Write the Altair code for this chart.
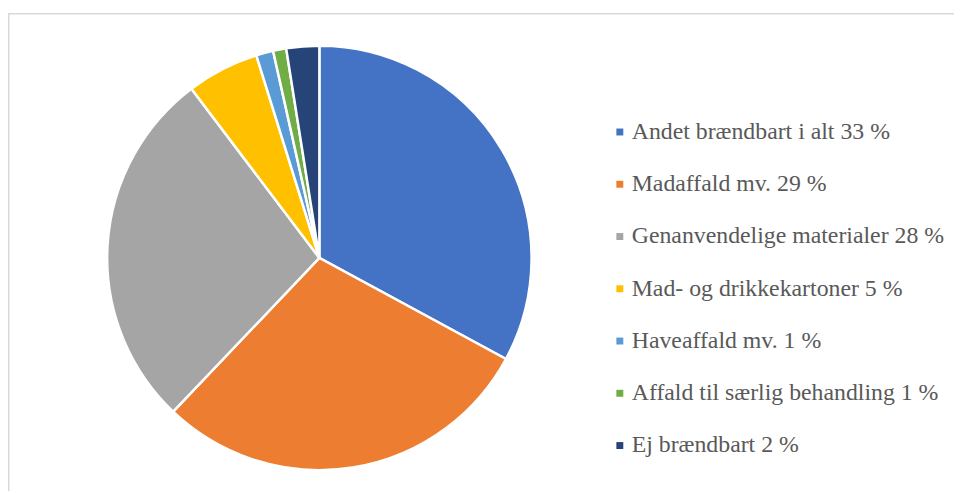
import altair as alt
import pandas as pd

labels = [
    "Andet brændbart i alt 33 %",
    "Madaffald mv. 29 %",
    "Genanvendelige materialer 28 %",
    "Mad- og drikkekartoner 5 %",
    "Haveaffald mv.  1 %",
    "Affald til særlig behandling 1 %",
    "Ej brændbart 2 %",
]
values = [32.9, 29.2, 27.6, 5.5, 1.3, 1.0, 2.5]
colors = ["#4472C4", "#ED7D31", "#A5A5A5", "#FFC000", "#5B9BD5", "#70AD47", "#264478"]

df = pd.DataFrame({"label": labels, "value": values, "idx": list(range(len(labels)))})

SERIF = "Liberation Serif"

top_line = alt.Chart(alt.Data(values=[{}])).mark_rule(
    stroke="#D9D9D9", strokeWidth=1.5
).encode(x=alt.value(0), x2=alt.value(954), y=alt.value(3.75))

left_line = alt.Chart(alt.Data(values=[{}])).mark_rule(
    stroke="#D9D9D9", strokeWidth=1.5
).encode(x=alt.value(0.75), y=alt.value(3), y2=alt.value(485))

pie = alt.Chart(df).mark_arc(radius=214, stroke="white", strokeWidth=2.5).encode(
    theta=alt.Theta("value:Q", stack=True),
    order=alt.Order("idx:Q"),
    color=alt.Color(
        "label:N",
        scale=alt.Scale(domain=labels, range=colors),
        sort=labels,
        legend=alt.Legend(
            title=None,
            orient="none",
            legendX=605,
            legendY=111,
            symbolType="square",
            symbolSize=49,
            symbolStrokeWidth=0,
            labelFont=SERIF,
            labelFontSize=24,
            labelColor="#595959",
            labelOffset=0,
            rowPadding=28.7,
            labelLimit=400,
            padding=0,
        ),
    ),
    x=alt.value(314),
    y=alt.value(250),
)

chart = alt.layer(top_line, left_line, pie).properties(
    width=954, height=485,
    autosize=alt.AutoSizeParams(type="none"),
    padding=0,
).configure_view(strokeWidth=0, stroke="transparent")

chart.save("out.html", embed_options={"renderer": "svg", "actions": False})
